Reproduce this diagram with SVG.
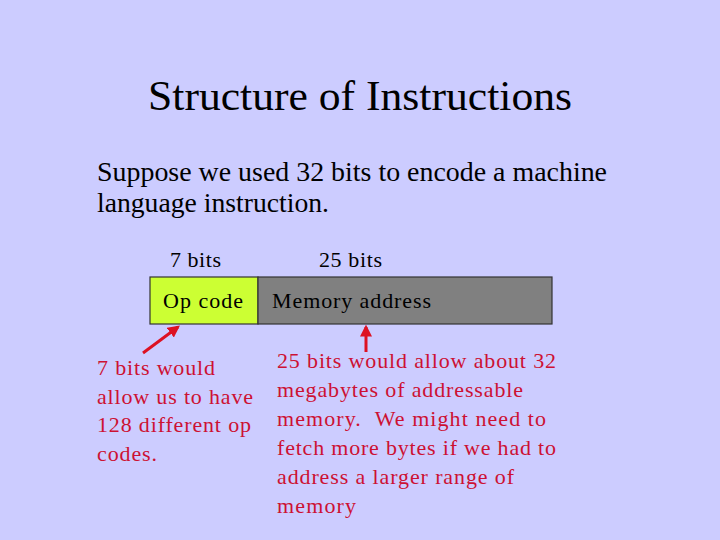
<svg xmlns="http://www.w3.org/2000/svg" width="720" height="540" viewBox="0 0 720 540">
<style>
text{font-family:"Liberation Serif","Times New Roman",serif;fill:#000;white-space:pre}
.s{font-size:22px}
.r{font-size:22px;fill:#cc1133}
.a{stroke:#dd1122;stroke-width:3;fill:none}
</style>
<defs><marker id="h" viewBox="0 0 10 10" refX="8" refY="5" markerWidth="4" markerHeight="4" orient="auto"><path d="M0,0L10,5L0,10z" fill="#dd1122"/></marker></defs>
<rect width="720" height="540" fill="#ccccff"/>
<text x="148" y="110" font-size="43" textLength="424" lengthAdjust="spacingAndGlyphs">Structure of Instructions</text>
<text x="97" y="181" font-size="27" textLength="510" lengthAdjust="spacingAndGlyphs">Suppose we used 32 bits to encode a machine</text>
<text x="97" y="212" font-size="27" textLength="232" lengthAdjust="spacingAndGlyphs">language instruction.</text>
<text x="170" y="267" class="s" textLength="51">7 bits</text>
<text x="319" y="267" class="s" textLength="63">25 bits</text>
<g id="opcode"><rect x="150" y="277" width="108" height="47" fill="#ccff33" stroke="#333" stroke-width="1.2"/><text x="163" y="308" class="s" textLength="80">Op code</text></g>
<g id="memaddr"><rect x="258" y="277" width="294" height="47" fill="#808080" stroke="#333" stroke-width="1.2"/><text x="272" y="308" class="s" textLength="159">Memory address</text></g>
<g id="connectors">
<line class="a" x1="143" y1="353" x2="178" y2="327" marker-end="url(#h)"/>
<line class="a" x1="366" y1="352" x2="366" y2="327" marker-end="url(#h)"/>
</g>
<g id="note1"><text class="r" x="97" y="375" textLength="118">7 bits would</text><text class="r" x="97" y="404" textLength="156">allow us to have</text><text class="r" x="97" y="432" textLength="154">128 different op</text><text class="r" x="97" y="461" textLength="60">codes.</text></g>
<g id="note2"><text class="r" x="277" y="368" textLength="279">25 bits would allow about 32</text><text class="r" x="277" y="397" textLength="246">megabytes of addressable</text><text class="r" x="277" y="426" textLength="269">memory.  We might need to</text><text class="r" x="277" y="455" textLength="279">fetch more bytes if we had to</text><text class="r" x="277" y="484" textLength="237">address a larger range of</text><text class="r" x="277" y="513" textLength="79">memory</text></g>
</svg>
